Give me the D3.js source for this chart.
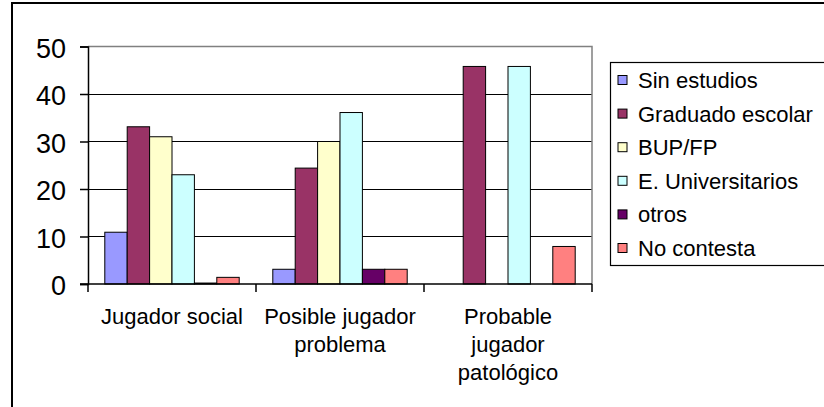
<!DOCTYPE html>
<html>
<head>
<meta charset="utf-8">
<script src="https://cdn.jsdelivr.net/npm/d3@7"></script>
<style>
  html, body { margin: 0; padding: 0; background: #fff; }
  svg { display: block; font-family: "Liberation Sans", Arial, sans-serif; }
</style>
</head>
<body>
<svg id="chart" width="824" height="407"></svg>
<script>
// Player categories along the x axis
const categories = ["Jugador social", "Posible jugador problema", "Probable jugador patológico"];
// Education level series
const seriesNames = ["Sin estudios", "Graduado escolar", "BUP/FP", "E. Universitarios", "otros", "No contesta"];
const seriesColors = ["#9999FF", "#993366", "#FFFFCC", "#CCFFFF", "#660066", "#FF8080"];
// Percentages per series, one value per category
const sinEstudios      = [10.9, 3.1, 0];
const graduadoEscolar  = [33.1, 24.4, 45.8];
const bupFp            = [31.0, 30.0, 0];
const eUniversitarios  = [23.0, 36.1, 45.8];
const otros            = [0.2, 3.1, 0];
const noContesta       = [1.4, 3.1, 7.9];
const yTicks = [0, 10, 20, 30, 40, 50];

const seriesValues = [sinEstudios, graduadoEscolar, bupFp, eUniversitarios, otros, noContesta];

const svg = d3.select("#chart");

// Outer chart frame (runs off the right and bottom edges)
svg.append("rect")
  .attr("x", 12).attr("y", 3)
  .attr("width", 830).attr("height", 420)
  .attr("fill", "#fff")
  .attr("stroke", "#000").attr("stroke-width", 2);

const plot = { left: 88, right: 592, top: 46.5, bottom: 284 };

const x0 = d3.scaleBand().domain(categories).range([plot.left, plot.right]).padding(0);
const x1 = d3.scaleBand().domain(seriesNames).range([0, x0.bandwidth()])
  .paddingInner(0).paddingOuter(0.75);
const y = d3.scaleLinear().domain([0, 50]).range([plot.bottom, plot.top]);

// Gridlines
svg.append("g").selectAll("line")
  .data(yTicks.filter(t => t > 0 && t < 50))
  .join("line")
  .attr("x1", plot.left).attr("x2", plot.right)
  .attr("y1", d => y(d)).attr("y2", d => y(d))
  .attr("stroke", "#000").attr("stroke-width", 1)
  .attr("shape-rendering", "crispEdges");

// Plot area border (top and right)
svg.append("path")
  .attr("d", `M${plot.left},${y(50)}H${plot.right}V${plot.bottom}`)
  .attr("fill", "none")
  .attr("stroke", "#808080").attr("stroke-width", 1.5);

// Bars
const rows = [];
categories.forEach((c, ci) => {
  seriesNames.forEach((s, si) => {
    rows.push({ cat: c, series: s, value: seriesValues[si][ci], color: seriesColors[si] });
  });
});

svg.append("g").selectAll("rect")
  .data(rows.filter(d => d.value > 0))
  .join("rect")
  .attr("x", d => x0(d.cat) + x1(d.series))
  .attr("y", d => y(d.value))
  .attr("width", x1.bandwidth())
  .attr("height", d => y(0) - y(d.value))
  .attr("fill", d => d.color)
  .attr("stroke", "#000").attr("stroke-width", 1);

// Y axis
const yAxis = svg.append("g")
  .attr("transform", `translate(${plot.left},0)`)
  .call(d3.axisLeft(y).tickValues(yTicks).tickSize(8).tickPadding(14).tickFormat(d3.format("d")));
yAxis.select(".domain").attr("stroke", "#000").attr("stroke-width", 1.5);
yAxis.selectAll(".tick line").attr("stroke", "#000").attr("stroke-width", 1.5);
yAxis.selectAll(".tick text")
  .attr("font-size", 27).attr("fill", "#000")
  .attr("font-family", "'Liberation Sans', Arial, sans-serif")
  .attr("dy", "0.4em");

// X axis line and category separators
const xAxis = svg.append("g");
xAxis.append("line")
  .attr("x1", plot.left - 8).attr("x2", plot.right)
  .attr("y1", y(0)).attr("y2", y(0))
  .attr("stroke", "#000").attr("stroke-width", 1.5);
const sepX = categories.map(c => x0(c)).concat([x0(categories[categories.length - 1]) + x0.bandwidth()]);
xAxis.selectAll("line.sep")
  .data(sepX)
  .join("line")
  .attr("class", "sep")
  .attr("x1", d => d).attr("x2", d => d)
  .attr("y1", y(0)).attr("y2", y(0) + 8)
  .attr("stroke", "#000").attr("stroke-width", 1.5);

// Category labels, wrapped to fit under each group
const maxWidth = 160;
const lineHeight = 28;
categories.forEach(c => {
  const t = xAxis.append("text")
    .attr("x", x0(c) + x0.bandwidth() / 2)
    .attr("y", 324)
    .attr("text-anchor", "middle")
    .attr("font-size", 22)
    .attr("fill", "#000");
  const words = c.split(" ");
  let line = [];
  let lineNo = 0;
  let tspan = t.append("tspan").attr("x", x0(c) + x0.bandwidth() / 2).attr("dy", 0);
  words.forEach(w => {
    line.push(w);
    tspan.text(line.join(" "));
    if (tspan.node().getComputedTextLength() > maxWidth && line.length > 1) {
      line.pop();
      tspan.text(line.join(" "));
      line = [w];
      lineNo++;
      tspan = t.append("tspan")
        .attr("x", x0(c) + x0.bandwidth() / 2)
        .attr("dy", lineHeight)
        .text(w);
    }
  });
});

// Legend
const legend = svg.append("g");
legend.append("rect")
  .attr("x", 610.5).attr("y", 62.5)
  .attr("width", 230).attr("height", 203)
  .attr("fill", "#fff")
  .attr("stroke", "#000").attr("stroke-width", 1.2);

const legendY = d3.scalePoint().domain(seriesNames).range([80, 248]);
const items = legend.selectAll("g.item")
  .data(seriesNames)
  .join("g")
  .attr("class", "item")
  .attr("transform", d => `translate(0,${legendY(d)})`);
items.append("rect")
  .attr("x", 618).attr("y", -4.5)
  .attr("width", 9).attr("height", 9)
  .attr("fill", (d, i) => seriesColors[i])
  .attr("stroke", "#000").attr("stroke-width", 1);
items.append("text")
  .attr("x", 638).attr("y", 0)
  .attr("dy", "0.36em")
  .attr("font-size", 22)
  .attr("fill", "#000")
  .text(d => d);
</script>
</body>
</html>
